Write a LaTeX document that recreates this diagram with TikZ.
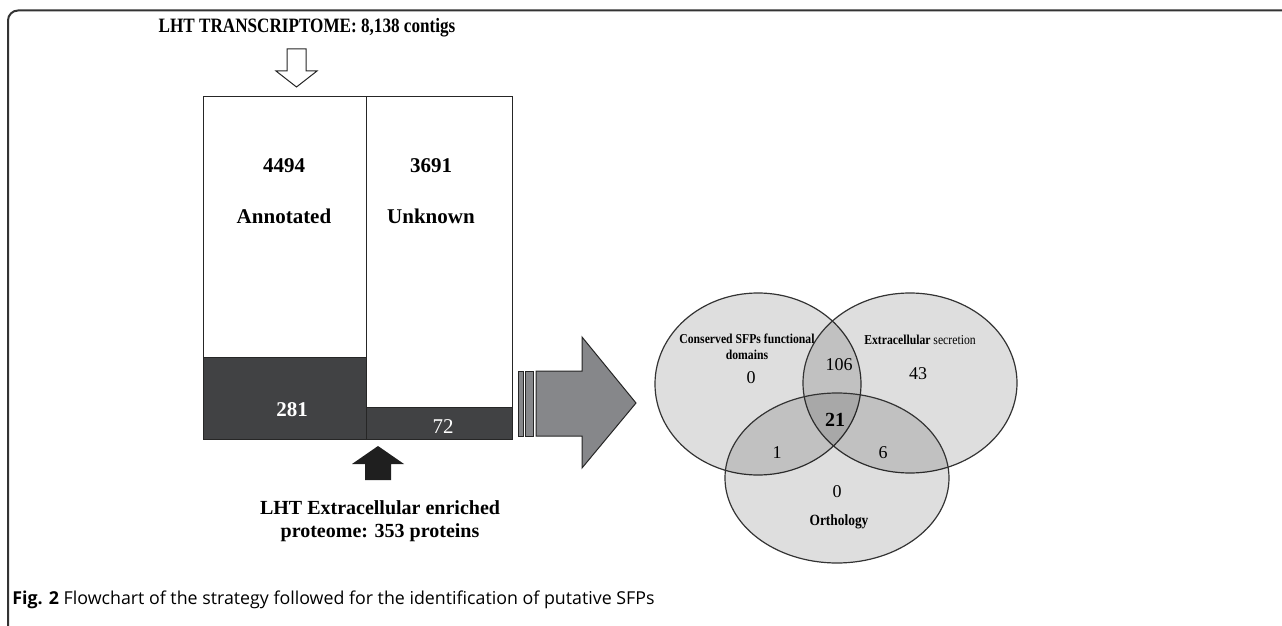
\documentclass[tikz,border=0pt]{standalone}
\usepackage{fontspec}
\setmainfont{Liberation Serif}
\newfontfamily\condserif[FakeStretch=0.86]{Liberation Serif}
\newfontfamily\titleserif[FakeStretch=0.84]{Liberation Serif}
\newfontfamily\capfont{Open Sans}
\usetikzlibrary{positioning}
\definecolor{darkbox}{HTML}{414244}
\definecolor{arrowgray}{HTML}{86878A}
\definecolor{framegray}{HTML}{333333}

\begin{document}
\begin{tikzpicture}[x=0.5pt, y=-0.5pt,
    boxline/.style={draw=black!85, line width=0.5pt},
    lbl/.style={font=\fontsize{10.5}{12}\selectfont\bfseries, inner sep=1pt},
    venn/.style={draw=black!80, line width=0.6pt, fill=black, fill opacity=0.13, draw opacity=1},
    vnum/.style={font=\fontsize{9}{10}\selectfont, inner sep=1pt},
    vlbl/.style={font=\condserif\fontsize{6.8}{8}\selectfont\bfseries, align=center, inner sep=1pt}]
  \useasboundingbox (0,0) rectangle (1282,626);
  % open frame
  \draw[framegray, line width=1pt, rounded corners=5pt] (8,626) -- (8,10.5) -- (1290,10.5);

  \node[font=\titleserif\fontsize{10.2}{12}\selectfont\bfseries] (title) at (307,28)
    {LHT TRANSCRIPTOME: 8,138 contigs};
  \draw[black!85, line width=0.5pt, fill=white]
    (287,49) -- (306,49) -- (306,71) -- (317,71) -- (296.5,87) -- (276,71) -- (287,71) -- cycle;

  % contig boxes
  \draw[boxline, fill=white] (203,97) rectangle (366,439);
  \draw[boxline, fill=white] (366,97) rectangle (512,439);
  \draw[boxline, fill=darkbox] (203,358) rectangle (366,439);
  \draw[boxline, fill=darkbox] (366,407) rectangle (512,439);
  \node[lbl] (nann) at (284,166) {4494};
  \node[lbl] (ann) at (284,216) {Annotated};
  \node[lbl] (nunk) at (431,166) {3691};
  \node[lbl] (unk) at (431,216) {Unknown};
  \node[lbl, white] (pann) at (292,410) {281};
  \node[lbl, white, font=\fontsize{10.5}{12}\selectfont] (punk) at (443,427) {72};

  % proteome
  \fill[black!88] (365,480) -- (365,464) -- (352,464) -- (378,446) -- (404,464) -- (391,464) -- (391,480) -- cycle;
  \node[font=\fontsize{10}{11.5}\selectfont\bfseries, align=center] (prot) at (380,521)
    {LHT Extracellular enriched\\proteome: 353 proteins};

  % big arrow
  \draw[black!85, line width=0.5pt, fill=arrowgray] (518,371) rectangle (523,436);
  \draw[black!85, line width=0.5pt, fill=arrowgray] (525,371) rectangle (533,436);
  \draw[black!85, line width=0.5pt, fill=arrowgray]
    (536,371) -- (582,371) -- (582,337) -- (636,403) -- (582,468) -- (582,436) -- (536,436) -- cycle;

  % venn
  \draw[venn] (758,384) ellipse [x radius=103, y radius=91];
  \draw[venn] (910,383) ellipse [x radius=107, y radius=90];
  \draw[venn] (837,478) ellipse [x radius=112, y radius=85];
  \node[vlbl] (cons) at (747,347) {Conserved SFPs functional\\domains};
  \node[vlbl] (extra) at (920,340) {Extracellular \mdseries secretion};
  \node[vlbl, font=\condserif\fontsize{7.8}{9}\selectfont\bfseries] (orth) at (839,522) {Orthology};
  \node[vnum] (a) at (751,378) {0};
  \node[vnum] (ab) at (839,365) {106};
  \node[vnum] (b) at (918,374) {43};
  \node[vnum, font=\fontsize{10}{11}\selectfont\bfseries] (abc) at (835,420) {21};
  \node[vnum] (ac) at (777,453) {1};
  \node[vnum] (bc) at (883,453) {6};
  \node[vnum] (c) at (837,492) {0};

  \node[anchor=west, font=\capfont\fontsize{8.9}{9}\selectfont, inner sep=0pt] (cap) at (12,600)
    {\textbf{Fig. 2} Flowchart of the strategy followed for the identification of putative SFPs};
\end{tikzpicture}
\end{document}
